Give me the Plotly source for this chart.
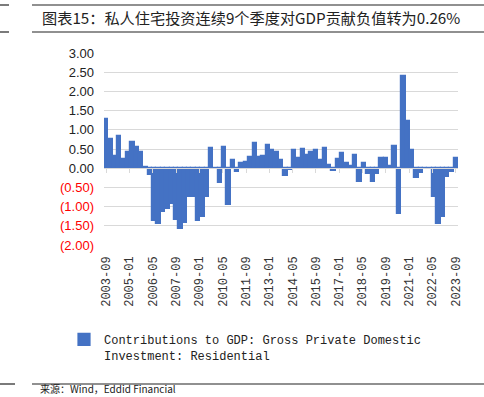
import plotly.graph_objects as go
import pandas as pd

# ---------------- data ----------------
quarter_dates = pd.date_range("2003-09-01", "2023-09-01", freq="3MS")
quarter_labels = list(quarter_dates.strftime("%Y-%m"))

contribution = [
    1.28, 0.75, 0.32, 0.83, 0.25, 0.41, 0.67, 0.55, 0.42, 0.03,
    -0.17, -1.38, -1.44, -1.15, -1.05, -0.92, -1.35, -1.58, -1.42, -0.74,
    -0.74, -1.38, -1.28, -0.74, 0.52, -0.02, -0.38, 0.55, -0.96, 0.22,
    -0.09, 0.13, 0.17, 0.28, 0.65, 0.30, 0.33, 0.60, 0.48, 0.43,
    0.22, -0.20, -0.04, 0.48, 0.27, 0.50, 0.34, 0.43, 0.47, 0.21,
    0.52, 0.09, -0.08, 0.24, 0.40, 0.13, 0.06, 0.35, -0.35, 0.13,
    -0.15, -0.35, -0.15, 0.26, 0.26, 0.05, 0.57, -1.20, 2.40, 1.24,
    0.48, -0.26, -0.13, -0.02, -0.03, -0.74, -1.44, -1.27, -0.22, -0.09,
    0.26,
]

x_tick_labels = ["2003-09", "2005-01", "2006-05", "2007-09", "2009-01", "2010-05",
                 "2011-09", "2013-01", "2014-05", "2015-09", "2017-01", "2018-05",
                 "2019-09", "2021-01", "2022-05", "2023-09"]

y_tick_values = [3.0, 2.5, 2.0, 1.5, 1.0, 0.5, 0.0, -0.5, -1.0, -1.5, -2.0]

series_name = "Contributions to GDP: Gross Private Domestic<br>Investment: Residential"
title_text = "图表15：私人住宅投资连续9个季度对GDP贡献负值转为0.26%"
source_text = "来源：Wind，Eddid Financial"


def month_offset(label):
    y, m = label.split("-")
    return (int(y) - 2003) * 12 + int(m) - 9


x_months = [month_offset(s) for s in quarter_labels]
x_tick_vals = [month_offset(s) for s in x_tick_labels]


def fmt_y(v):
    if v < 0:
        return "<span style='color:#ff0000'>(%.2f)</span>" % abs(v)
    return "%.2f" % v


y_tick_text = [fmt_y(v) for v in y_tick_values]

# ---------------- layout geometry ----------------
W_FIG, H_FIG = 484, 397
L, R, T, B = 104, 26, 53, 152
PW = W_FIG - L - R
PH = H_FIG - T - B


def px(p):
    return (p - L) / PW


def py(p):
    return (T + PH - p) / PH


BLUE = "#4472C4"
GRID = "#d9d9d9"

fig = go.Figure()
fig.add_trace(go.Bar(
    x=x_months, y=contribution, width=3.0,
    marker=dict(color=BLUE, line=dict(width=1.2, color=BLUE)),
    name=series_name, showlegend=True,
))
# invisible helper trace so the zero-axis (xaxis2) gets drawn
fig.add_trace(go.Scatter(x=[x_months[0]], y=[0], xaxis="x2", mode="markers",
                         marker=dict(opacity=0), showlegend=False, hoverinfo="skip"))

fig.update_layout(
    width=W_FIG, height=H_FIG,
    margin=dict(l=L, r=R, t=T, b=B, pad=0, autoexpand=False),
    paper_bgcolor="white", plot_bgcolor="white",
    bargap=0, barmode="overlay",
    xaxis=dict(range=[-1.5, 241.5], tickmode="array", tickvals=x_tick_vals,
               ticktext=x_tick_labels, tickangle=-90, automargin=False,
               tickfont=dict(family="Liberation Mono", size=12, color="#333333"),
               showgrid=False, zeroline=False, showline=False, ticks="",
               ticklabelstandoff=8),
    xaxis2=dict(range=[-1.5, 241.5], overlaying="x", anchor="free", position=0.4,
                tickmode="array", tickvals=x_tick_vals, showticklabels=False,
                showline=True, linecolor=GRID, linewidth=1, ticks="outside",
                ticklen=4, tickcolor=GRID, showgrid=False, zeroline=False,
                automargin=False),
    yaxis=dict(range=[-2, 3], tickmode="array", tickvals=y_tick_values,
               ticktext=y_tick_text, showgrid=True, gridcolor=GRID, gridwidth=1,
               zeroline=False, ticks="", ticklabelstandoff=9, automargin=False,
               tickfont=dict(family="Liberation Sans", size=13, color="#222222")),
    legend=dict(xref="container", yref="container", x=64 / W_FIG, y=1 - 325 / H_FIG,
                xanchor="left", yanchor="top", valign="top",
                font=dict(family="Liberation Mono", size=12, color="#222222"),
                bgcolor="rgba(0,0,0,0)"),
    showlegend=True,
)

fig.add_annotation(text=title_text, xref="paper", yref="paper", x=px(40), y=py(17),
                   xanchor="left", yanchor="middle", showarrow=False,
                   font=dict(family="Noto Sans CJK SC", size=15.2, color="#222222"))
fig.add_annotation(text=source_text, xref="paper", yref="paper", x=px(38), y=py(398),
                   xanchor="left", yanchor="bottom", showarrow=False,
                   font=dict(family="Noto Sans CJK SC", size=10, color="#222222"))

for (x0, x1, yy) in [(0, 9, 5), (32, 484, 5), (0, 9, 32), (32, 484, 32),
                     (0, 15, 384), (32, 484, 384)]:
    fig.add_shape(type="line", xref="paper", yref="paper",
                  x0=px(x0), x1=px(x1), y0=py(yy), y1=py(yy),
                  line=dict(color="#222222", width=1.2))

fig.write_html("out.html", config={"displayModeBar": False},
               post_script="document.body.style.margin='0';document.body.style.overflow='hidden';")
